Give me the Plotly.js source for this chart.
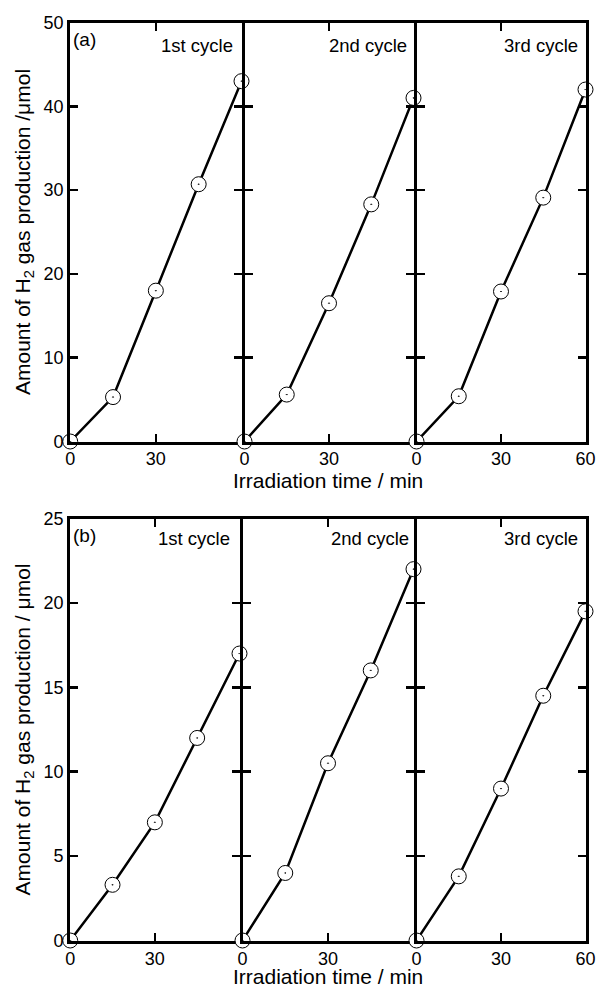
<!DOCTYPE html>
<html>
<head>
<meta charset="utf-8">
<script src="https://cdn.plot.ly/plotly-3.0.1.min.js"></script>
<style>html,body{margin:0;padding:0;background:#fff;}#chart{width:598px;height:990px;}</style>
</head>
<body>
<div id="chart"></div>
<script>
// Data
var time = [0, 15, 30, 45, 60];
var panelA_cycle1 = [0, 5.3, 18.0, 30.7, 43.0];
var panelA_cycle2 = [0, 5.6, 16.5, 28.3, 41.0];
var panelA_cycle3 = [0, 5.4, 17.9, 29.1, 42.0];
var panelB_cycle1 = [0, 3.3, 7.0, 12.0, 17.0];
var panelB_cycle2 = [0, 4.0, 10.5, 16.0, 22.0];
var panelB_cycle3 = [0, 3.8, 9.0, 14.5, 19.5];
var cycleLabels = ['1st cycle', '2nd cycle', '3rd cycle'];
var panelLabels = ['(a)', '(b)'];
var xTickVals = [0, 30, 60];
var xTickTextInner = ['0', '30', ''];
var xTickTextLast = ['0', '30', '60'];
var yTitleA = 'Amount of H<sub>2</sub> gas production /\u03bcmol';
var yTitleB = 'Amount of H<sub>2</sub> gas production / \u03bcmol';
var xTitle = 'Irradiation time / min';

var FONT = 'Liberation Sans, Arial, sans-serif';
var series = [panelA_cycle1, panelA_cycle2, panelA_cycle3, panelB_cycle1, panelB_cycle2, panelB_cycle3];

function sfx(n) { return n === 1 ? '' : String(n); }

var traces = series.map(function (ys, i) {
  var n = i + 1;
  return {
    x: time, y: ys,
    xaxis: 'x' + sfx(n), yaxis: 'y' + sfx(n),
    mode: 'lines+markers', type: 'scatter', cliponaxis: false,
    line: {color: '#000', width: 2.5},
    marker: {symbol: 'circle-dot', size: 15, color: '#fff', line: {color: '#000', width: 1}},
    showlegend: false, hoverinfo: 'skip'
  };
});

var ML = 68, MT = 21, W = 519, H = 921;
function clamp(v) { return Math.max(0, Math.min(1, v)); }
function px(xp) { return (xp - ML) / W; }
function py(yp) { return 1 - (yp - MT) / H; }
function xd(a, b) { return [clamp(px(a)), clamp(px(b))]; }
function yd(t, b) { return [clamp(py(b)), clamp(py(t))]; }

var xDomsA = [xd(70.2, 241.5), xd(244.5, 413.5), xd(416.5, 585.5)];
var xDomsB = [xd(70.2, 239.5), xd(242.5, 413.5), xd(416.5, 585.5)];
var yDomA = yd(22.5, 441.5), yDomB = yd(518.5, 940.5);

var layout = {
  width: 598, height: 990,
  margin: {l: ML, r: 11, t: MT, b: 48},
  paper_bgcolor: '#fff', plot_bgcolor: 'rgba(0,0,0,0)',
  font: {family: FONT, size: 18, color: '#000'},
  annotations: []
};

for (var i = 0; i < 6; i++) {
  var n = i + 1, isTop = i < 3, col = i % 3;
  var xa = {
    domain: isTop ? xDomsA[col] : xDomsB[col],
    anchor: 'y' + sfx(n),
    range: [0, 60], tickvals: xTickVals,
    ticktext: col === 2 ? xTickTextLast : xTickTextInner,
    ticks: 'inside', ticklen: 8, tickwidth: 2.5, tickcolor: '#000',
    showline: true, linewidth: 3, linecolor: '#000', mirror: 'allticks',
    showgrid: false, zeroline: false, fixedrange: true,
    ticklabelstandoff: isTop ? -1 : 0,
    tickfont: {family: FONT, size: 18, color: '#000'}
  };
  var ya = {
    domain: isTop ? yDomA : yDomB,
    anchor: 'x' + sfx(n),
    range: isTop ? [0, 50] : [0, 25], dtick: isTop ? 10 : 5, tick0: 0,
    ticks: 'inside', ticklen: 8, tickwidth: 2.5, tickcolor: '#000',
    showline: true, linewidth: 3, linecolor: '#000', mirror: 'allticks',
    showgrid: false, zeroline: false, fixedrange: true,
    showticklabels: col === 0,
    tickfont: {family: FONT, size: 18, color: '#000'}
  };
  if (col === 0) {
    ya.title = {text: isTop ? yTitleA : yTitleB, font: {family: FONT, size: 21, color: '#000'}, standoff: 8};
  }
  layout['xaxis' + sfx(n)] = xa;
  layout['yaxis' + sfx(n)] = ya;
}

// x-axis titles centred under the three panels
layout.annotations.push({xref: 'paper', yref: 'paper', x: px(328), y: py(480),
  xanchor: 'center', yanchor: 'middle', text: xTitle, showarrow: false,
  font: {family: FONT, size: 21, color: '#000'}});
layout.annotations.push({xref: 'paper', yref: 'paper', x: px(328), y: py(976.5),
  xanchor: 'center', yanchor: 'middle', text: xTitle, showarrow: false,
  font: {family: FONT, size: 21, color: '#000'}});

// label positions (pixel coords converted to paper)
var cycleRightA = [235, 409, 580], cycleRightB = [232, 411, 580];
for (var c = 0; c < 3; c++) {
  layout.annotations.push({xref: 'paper', yref: 'paper', x: px(cycleRightA[c]), y: py(45),
    xanchor: 'right', yanchor: 'middle', text: cycleLabels[c], showarrow: false,
    font: {family: FONT, size: 18.5, color: '#000'}});
  layout.annotations.push({xref: 'paper', yref: 'paper', x: px(cycleRightB[c]), y: py(538),
    xanchor: 'right', yanchor: 'middle', text: cycleLabels[c], showarrow: false,
    font: {family: FONT, size: 18.5, color: '#000'}});
}
layout.annotations.push({xref: 'paper', yref: 'paper', x: px(71), y: py(39),
  xanchor: 'left', yanchor: 'middle', text: panelLabels[0], showarrow: false,
  font: {family: FONT, size: 19, color: '#000'}});
layout.annotations.push({xref: 'paper', yref: 'paper', x: px(71), y: py(535),
  xanchor: 'left', yanchor: 'middle', text: panelLabels[1], showarrow: false,
  font: {family: FONT, size: 19, color: '#000'}});

Plotly.newPlot('chart', traces, layout, {displayModeBar: false, staticPlot: true});
</script>
</body>
</html>
